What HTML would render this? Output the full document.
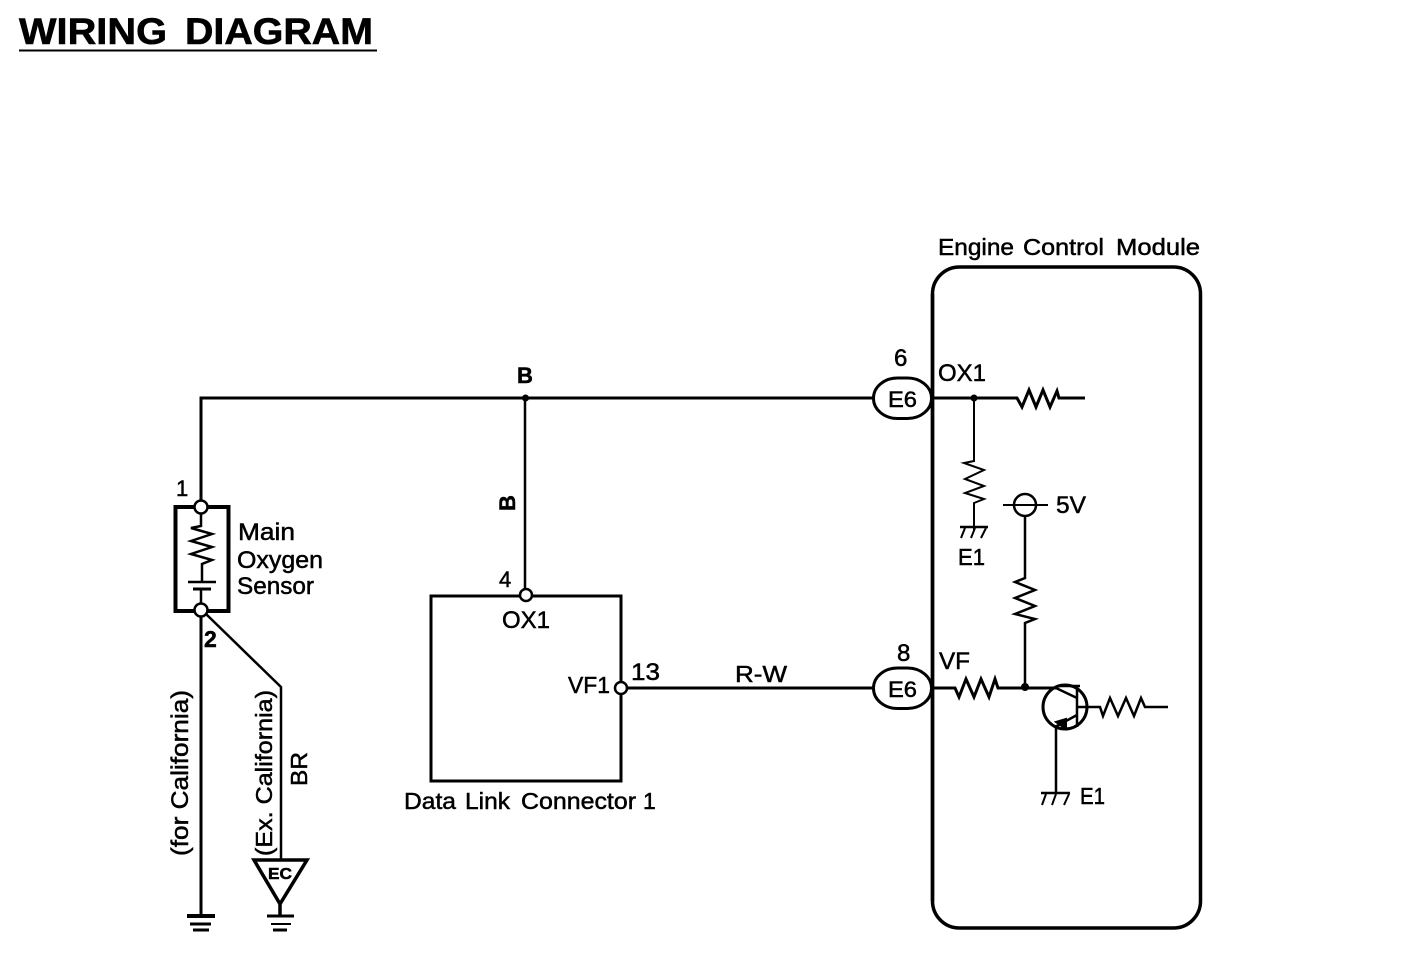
<!DOCTYPE html>
<html><head><meta charset="utf-8">
<style>
html,body{margin:0;padding:0;background:#fff}
svg{display:block}
text{font-family:"Liberation Sans",sans-serif;fill:#000;stroke:#000;stroke-width:.5px}
</style></head>
<body>
<svg width="1408" height="976" viewBox="0 0 1408 976" xmlns="http://www.w3.org/2000/svg" fill="none" stroke="#000" stroke-width="3">
<text x="19" y="44" font-size="37" font-weight="bold" textLength="148" lengthAdjust="spacingAndGlyphs" style="stroke-width:.6px">WIRING</text>
<text x="185" y="44" font-size="37" font-weight="bold" textLength="188" lengthAdjust="spacingAndGlyphs" style="stroke-width:.6px">DIAGRAM</text>
<path d="M19 50.500H377" stroke-width="2"/>

<!-- main wires -->
<path d="M201 501V398H875" />
<path d="M525 398V590" stroke-width="2.500"/>
<circle cx="525.500" cy="398" r="3.500" fill="#000" stroke="none"/>

<!-- sensor -->
<rect x="175.500" y="507" width="53" height="104" stroke-width="4"/>
<circle cx="201" cy="507" r="6.500" fill="#fff" stroke-width="2.500"/>
<circle cx="201" cy="610" r="6.500" fill="#fff" stroke-width="2.500"/>
<path d="M201 514V526L191 528 212 534 191 541 212 547 191 554 212 560 202 564V581" stroke-width="2.500"/>
<path d="M188 582H216" stroke-width="2.500"/>
<path d="M193 589H211" stroke-width="3"/>
<path d="M201 590V604" stroke-width="2.500"/>
<path d="M201 616V914" stroke-width="3"/>
<path d="M206 614L281 687V860" stroke-width="2.500"/>

<!-- grounds -->
<path d="M187 916H215" stroke-width="4"/><path d="M190 924H211" stroke-width="3"/><path d="M193 930H209" stroke-width="3"/>
<path d="M267 916H294" stroke-width="3"/><path d="M271 924H291" stroke-width="2"/><path d="M273 930H287" stroke-width="3"/>
<!-- EC triangle -->
<path d="M254 860H307L280 904Z" stroke-width="3.500" stroke-linejoin="miter"/>
<path d="M280 904V916" stroke-width="3.500"/>
<text x="268" y="879" font-size="16" font-weight="bold" textLength="24" lengthAdjust="spacingAndGlyphs">EC</text>

<!-- DLC -->
<rect x="431" y="596" width="190" height="185" stroke-width="3"/>
<circle cx="526" cy="595" r="6" fill="#fff" stroke-width="2.500"/>
<circle cx="621" cy="688" r="6" fill="#fff" stroke-width="2.500"/>
<path d="M627 688H875"/>

<!-- ECM -->
<rect x="932.500" y="267" width="268" height="661" rx="27" ry="27" stroke-width="3.500"/>

<!-- E6 connectors -->
<rect x="873.500" y="378" width="58" height="40.500" rx="24" ry="20" fill="#fff" stroke-width="3"/>
<rect x="873.500" y="668" width="58" height="40.500" rx="24" ry="20" fill="#fff" stroke-width="3"/>
<path d="M932.500 294V901" stroke-width="3.500"/>

<!-- OX1 internals -->
<path d="M934 398H1017L1022 407 1029 390 1036 407 1043 390 1050 407 1057 391 1059 398H1085"/>
<circle cx="974" cy="398" r="3.500" fill="#000" stroke="none"/>
<path d="M974 398V461L964 463 984 470 965 479 984 486 965 493 984 499 974 503V530" stroke-width="2"/>
<path d="M960 527H988" stroke-width="2.500"/>
<path d="M965 528L961 538M975 528L971 538M986 528L981 538" stroke-width="2"/>

<!-- 5V -->
<circle cx="1025" cy="505" r="11" stroke-width="2.500"/>
<path d="M1003 505H1048" stroke-width="2"/>
<path d="M1025 517V578L1015 582 1035 590 1015 598 1035 606 1015 614 1035 619 1025 623V687" stroke-width="2.500"/>

<!-- VF internals -->
<path d="M934 688H955L959 697 966 679 974 697 981 679 989 697 995 679 998 688H1057"/>
<circle cx="1025" cy="687" r="4" fill="#000" stroke="none"/>
<circle cx="1065" cy="707" r="22" stroke-width="3"/>
<path d="M1057 686H1080M1056 688L1077 698M1077 686V727" stroke-width="2.500"/>
<path d="M1077 707H1100L1103 716 1110 698 1118 716 1126 698 1134 716 1141 698 1145 707H1168" stroke-width="2.500"/>
<path d="M1055 727L1077 715" stroke-width="2.500"/>
<path d="M1056 722L1066 719V729Z" fill="#000" stroke-width="2"/>
<path d="M1056 727V793" stroke-width="2.500"/>
<path d="M1041 793H1070" stroke-width="2.500"/>
<path d="M1046 794L1042 805M1056 794L1052 805M1069 794L1064 805" stroke-width="2"/>

<!-- labels -->
<g font-size="24" stroke="none">
<text x="938" y="255" textLength="76" lengthAdjust="spacingAndGlyphs" font-size="23">Engine</text>
<text x="1023" y="255" textLength="81" lengthAdjust="spacingAndGlyphs" font-size="23">Control</text>
<text x="1116" y="255" textLength="84" lengthAdjust="spacingAndGlyphs" font-size="23">Module</text>
<text x="894" y="366">6</text>
<text x="938" y="381" textLength="48" lengthAdjust="spacingAndGlyphs">OX1</text>
<text x="517" y="383" font-weight="bold" font-size="22">B</text>
<text x="888" y="407" textLength="29" lengthAdjust="spacingAndGlyphs" font-size="22">E6</text>
<text x="1056" y="513" textLength="30" lengthAdjust="spacingAndGlyphs">5V</text>
<text x="958" y="565" textLength="27" lengthAdjust="spacingAndGlyphs" font-size="23">E1</text>
<text x="176" y="496" font-size="22">1</text>
<text x="238" y="540" textLength="57" lengthAdjust="spacingAndGlyphs">Main</text>
<text x="237" y="568" textLength="86" lengthAdjust="spacingAndGlyphs">Oxygen</text>
<text x="237" y="594" textLength="77" lengthAdjust="spacingAndGlyphs">Sensor</text>
<text x="204" y="647" font-size="23" font-weight="bold">2</text>
<text x="499" y="587" font-size="22">4</text>
<text x="502" y="628" textLength="48" lengthAdjust="spacingAndGlyphs">OX1</text>
<text x="568" y="693" textLength="42" lengthAdjust="spacingAndGlyphs" font-size="23">VF1</text>
<text x="631" y="680" textLength="29" lengthAdjust="spacingAndGlyphs">13</text>
<text x="735" y="682" textLength="52" lengthAdjust="spacingAndGlyphs" font-size="23">R-W</text>
<text x="897" y="661">8</text>
<text x="939" y="669" textLength="31" lengthAdjust="spacingAndGlyphs">VF</text>
<text x="888" y="697" textLength="29" lengthAdjust="spacingAndGlyphs" font-size="22">E6</text>
<text x="1080" y="804" textLength="25" lengthAdjust="spacingAndGlyphs" font-size="23">E1</text>
<text x="404" y="809" textLength="52" lengthAdjust="spacingAndGlyphs" font-size="23">Data</text>
<text x="465" y="809" textLength="45" lengthAdjust="spacingAndGlyphs" font-size="23">Link</text>
<text x="521" y="809" textLength="115" lengthAdjust="spacingAndGlyphs" font-size="23">Connector</text>
<text x="643" y="809" font-size="23">1</text>
<text transform="translate(515,511) rotate(-90)" font-size="22" font-weight="bold">B</text>
<text transform="translate(188,856) rotate(-90)" textLength="166" lengthAdjust="spacingAndGlyphs">(for California)</text>
<text transform="translate(272,856) rotate(-90)" textLength="166" lengthAdjust="spacingAndGlyphs" font-size="23">(Ex. California)</text>
<text transform="translate(307,786) rotate(-90)" textLength="34" lengthAdjust="spacingAndGlyphs" font-size="23">BR</text>
</g>
</svg>
</body></html>
